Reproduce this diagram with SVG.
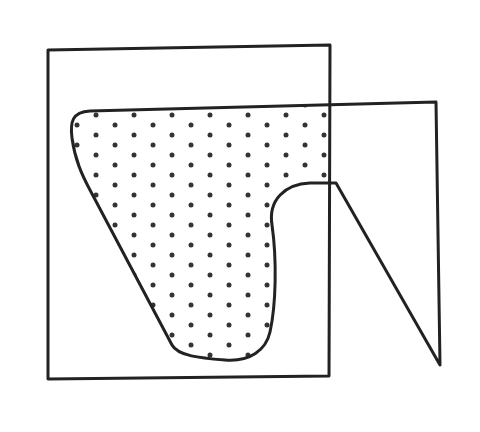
<svg xmlns="http://www.w3.org/2000/svg" width="480" height="432" viewBox="0 0 480 432">
  <style>
    .ln { fill: none; stroke: #222; stroke-width: 3; stroke-linejoin: round; stroke-linecap: round; }
  </style>
  <defs>
    <pattern id="dots" patternUnits="userSpaceOnUse" x="10" y="0" width="38" height="20">
      <circle cx="29" cy="5" r="2.5" fill="#333"/>
      <circle cx="10" cy="15" r="2.5" fill="#333"/>
    </pattern>
    <clipPath id="sq">
      <polygon points="48,50 330,45 329,376 48,379"/>
    </clipPath>
  </defs>
  <rect width="480" height="432" fill="#fff"/>
  <g id="dotted-region" clip-path="url(#sq)">
    <path d="M 436,102 L 90,111 C 72,112 70,122 72,138 C 75,160 82,175 90,190 L 172,345 C 178,356 200,358 225,360 C 250,362 266,350 270,332 C 276,305 277,260 272,225 C 268,200 285,184 310,183 L 336,183 L 440,365 Z" fill="url(#dots)"/>
  </g>
  <g id="square">
    <polygon class="ln" points="48,50 330,45 329,376 48,379"/>
  </g>
  <g id="shape">
    <path class="ln" d="M 436,102 L 90,111 C 72,112 70,122 72,138 C 75,160 82,175 90,190 L 172,345 C 178,356 200,358 225,360 C 250,362 266,350 270,332 C 276,305 277,260 272,225 C 268,200 285,184 310,183 L 336,183 L 440,365 Z"/>
  </g>
</svg>
